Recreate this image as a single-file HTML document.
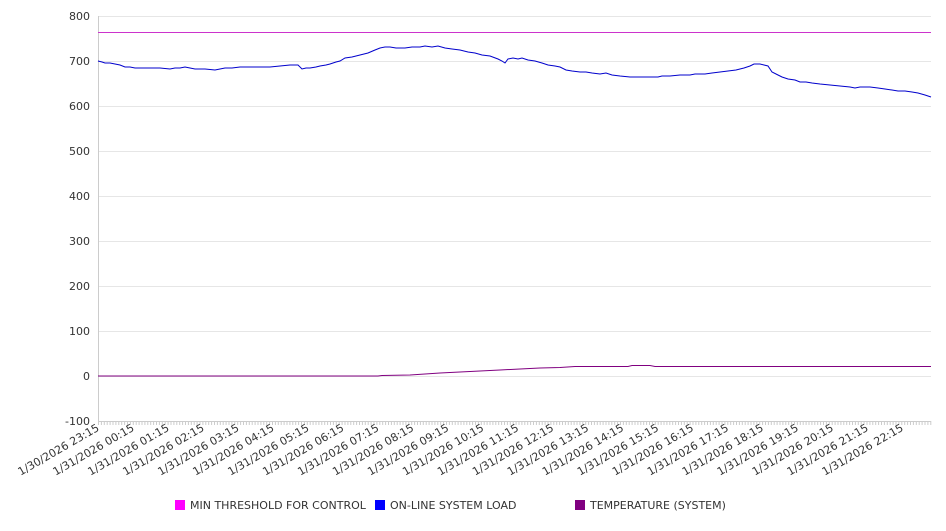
<!DOCTYPE html>
<html><head><meta charset="utf-8"><style>
body{margin:0;background:#fff;}
text{font-family:"DejaVu Sans","Liberation Sans",sans-serif;font-size:11px;fill:#333;}
</style></head><body>
<svg width="946" height="526" xmlns="http://www.w3.org/2000/svg">
<g stroke="#e6e6e6" stroke-width="1">
<line x1="98" y1="16.5" x2="931" y2="16.5"/>
<line x1="98" y1="61.5" x2="931" y2="61.5"/>
<line x1="98" y1="106.5" x2="931" y2="106.5"/>
<line x1="98" y1="151.5" x2="931" y2="151.5"/>
<line x1="98" y1="196.5" x2="931" y2="196.5"/>
<line x1="98" y1="241.5" x2="931" y2="241.5"/>
<line x1="98" y1="286.5" x2="931" y2="286.5"/>
<line x1="98" y1="331.5" x2="931" y2="331.5"/>
<line x1="98" y1="376.5" x2="931" y2="376.5"/>
</g>
<line x1="98.5" y1="16" x2="98.5" y2="421" stroke="#ccc"/>
<line x1="98" y1="421.5" x2="931" y2="421.5" stroke="#ccc"/>
<path id="ticks" stroke="#ccc" fill="none" d=""/>
<g text-anchor="end">
<text x="90" y="20">800</text><text x="90" y="65">700</text><text x="90" y="110">600</text>
<text x="90" y="155">500</text><text x="90" y="200">400</text><text x="90" y="245">300</text>
<text x="90" y="290">200</text><text x="90" y="335">100</text><text x="90" y="380">0</text>
<text x="90" y="425">-100</text>
</g>
<g id="xl" text-anchor="end"></g>
<line x1="98" y1="32.5" x2="931" y2="32.5" stroke="#cc33cc" stroke-width="1"/>
<polyline fill="none" stroke="#0000cc" stroke-width="1" points="98,61 102,62 105,63 110,63 115,64 120,65 125,67 130,67 135,68 140,68 150,68 160,68 170,69 175,68 180,68 185,67 190,68 195,69 205,69 215,70 220,69 225,68 232,68 240,67 250,67 260,67 270,67 280,66 290,65 298,65 302,69 306,68 310,68 316,67 320,66 326,65 330,64 336,62 340,61 345,58 352,57 360,55 368,53 375,50 380,48 385,47 390,47 396,48 405,48 412,47 420,47 425,46 432,47 438,46 445,48 452,49 460,50 468,52 475,53 482,55 490,56 498,59 502,61 505,63 508,59 513,58 518,59 522,58 528,60 535,61 542,63 548,65 555,66 560,67 566,70 572,71 580,72 586,72 592,73 600,74 606,73 612,75 620,76 630,77 640,77 650,77 658,77 662,76 670,76 680,75 690,75 695,74 705,74 712,73 720,72 728,71 736,70 744,68 750,66 754,64 760,64 764,65 768,66 772,72 778,75 782,77 788,79 795,80 800,82 806,82 812,83 820,84 830,85 840,86 850,87 855,88 860,87 870,87 878,88 885,89 892,90 898,91 905,91 912,92 918,93 925,95 931,97"/>
<polyline fill="none" stroke="#800080" stroke-width="1" points="98,376 378,376 382,375.5 410,375 425,374 440,373 460,372 480,371 500,370 520,369 540,368 560,367.5 575,366.5 628,366.5 632,365.5 650,365.5 655,366.5 931,366.5"/>
<rect x="175" y="500" width="10" height="10" fill="#ff00ff"/>
<text x="190" y="509">MIN THRESHOLD FOR CONTROL</text>
<rect x="375" y="500" width="10" height="10" fill="#0000ff"/>
<text x="390" y="509">ON-LINE SYSTEM LOAD</text>
<rect x="575" y="500" width="10" height="10" fill="#800080"/>
<text x="590" y="509">TEMPERATURE (SYSTEM)</text>
</svg>
<script>
var d="";for(var x=98.5;x<=931;x+=2.9){d+="M"+x.toFixed(1)+" 421V425";}
document.getElementById("ticks").setAttribute("d",d);
var g=document.getElementById("xl"),s="";
for(var i=0;i<24;i++){var x=100+i*34.96,y=430;
var h=(23+i)%24,lab=(i==0?"1/30/2026 ":"1/31/2026 ")+(h<10?"0":"")+h+":15";
s+='<text x="'+x.toFixed(1)+'" y="'+y+'" transform="rotate(-30 '+x.toFixed(1)+' '+y+')">'+lab+'</text>';}
g.innerHTML=s;
</script>
</body></html>
